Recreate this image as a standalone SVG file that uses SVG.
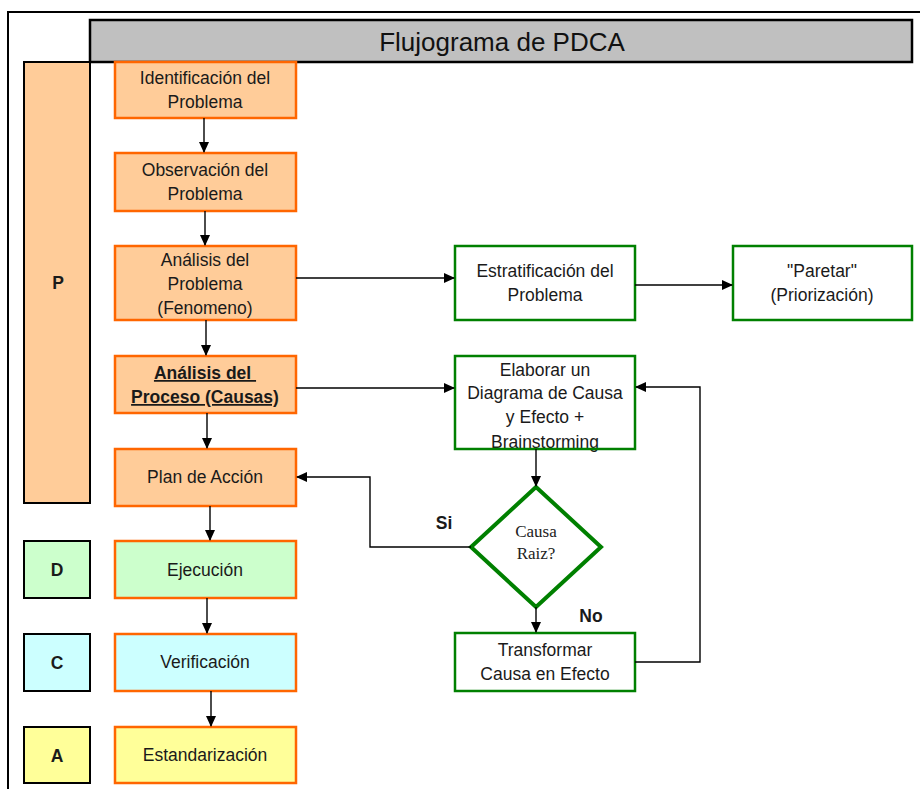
<svg xmlns="http://www.w3.org/2000/svg" width="920" height="789" viewBox="0 0 920 789">
<defs>
<marker id="ah" markerWidth="11" markerHeight="11" refX="10" refY="5.5" orient="auto" markerUnits="userSpaceOnUse">
<path d="M0,0.5 L11,5.5 L0,10.5 Z" fill="#000"/>
</marker>
<style>
.t{font-family:"Liberation Sans",Arial,sans-serif;font-size:17.5px;fill:#1a1a1a;text-anchor:middle}
.b{font-family:"Liberation Sans",Arial,sans-serif;font-size:17.5px;font-weight:bold;fill:#1a1a1a;text-anchor:middle}
.s{font-family:"Liberation Serif","Times New Roman",serif;font-size:17px;fill:#222;text-anchor:middle}
.o{stroke:#FF6600;stroke-width:2.5}
.g{stroke:#008000;stroke-width:2.5;fill:#fff}
.k{stroke:#000;stroke-width:2}
.c{stroke:#000;stroke-width:1.4;fill:none}
</style>
</defs>
<rect width="920" height="789" fill="#fff"/>
<g id="frame">
<path d="M920,12 H8 V789" fill="none" stroke="#000" stroke-width="2"/>
</g>
<g id="title">
<rect x="90" y="20" width="822" height="42" fill="#C0C0C0" stroke="#000" stroke-width="2.5"/>
<text x="502" y="51" style="font-family:'Liberation Sans',Arial,sans-serif;font-size:26px;fill:#111;text-anchor:middle">Flujograma de PDCA</text>
</g>
<g id="phaseP"><rect x="24" y="62" width="66" height="441" fill="#FFCC99" class="k"/><text class="b" x="58" y="289">P</text></g>
<g id="phaseD"><rect x="24" y="541" width="66" height="57" fill="#CCFFCC" class="k"/><text class="b" x="57" y="576">D</text></g>
<g id="phaseC"><rect x="24" y="634" width="66" height="57" fill="#CCFFFF" class="k"/><text class="b" x="57" y="669">C</text></g>
<g id="phaseA"><rect x="24" y="727" width="66" height="56" fill="#FFFF99" class="k"/><text class="b" x="57" y="762">A</text></g>

<g id="n1"><rect x="115" y="62" width="181" height="56" fill="#FFCC99" class="o"/><text class="t" x="205" y="84">Identificación del</text><text class="t" x="205" y="108">Problema</text></g>
<g id="n2"><rect x="115" y="153" width="181" height="58" fill="#FFCC99" class="o"/><text class="t" x="205" y="176">Observación del</text><text class="t" x="205" y="200">Problema</text></g>
<g id="n3"><rect x="115" y="246" width="181" height="74" fill="#FFCC99" class="o"/><text class="t" x="205" y="266">Análisis del</text><text class="t" x="205" y="290">Problema</text><text class="t" x="205" y="314">(Fenomeno)</text></g>
<g id="n4"><rect x="115" y="356" width="181" height="57" fill="#FFCC99" class="o"/><text class="b" x="205" y="379" text-decoration="underline" xml:space="preserve">Análisis del </text><text class="b" x="205" y="403" text-decoration="underline">Proceso (Causas)</text></g>
<g id="n5"><rect x="115" y="449" width="181" height="57" fill="#FFCC99" class="o"/><text class="t" x="205" y="483">Plan de Acción</text></g>
<g id="n6"><rect x="115" y="541" width="181" height="57" fill="#CCFFCC" class="o"/><text class="t" x="205" y="576">Ejecución</text></g>
<g id="n7"><rect x="115" y="634" width="181" height="57" fill="#CCFFFF" class="o"/><text class="t" x="205" y="668">Verificación</text></g>
<g id="n8"><rect x="115" y="727" width="181" height="56" fill="#FFFF99" class="o"/><text class="t" x="205" y="761">Estandarización</text></g>

<g id="n9"><rect x="455" y="246" width="180" height="74" class="g"/><text class="t" x="545" y="277">Estratificación del</text><text class="t" x="545" y="301">Problema</text></g>
<g id="n10"><rect x="733" y="246" width="179" height="74" class="g"/><text class="t" x="822" y="277">"Paretar"</text><text class="t" x="822" y="301">(Priorización)</text></g>
<g id="n11"><rect x="455" y="356" width="180" height="93" fill="#fff"/><text class="t" x="545" y="376">Elaborar un</text><text class="t" x="545" y="399">Diagrama de Causa</text><text class="t" x="545" y="423">y Efecto +</text><text class="t" x="545" y="448">Brainstorming</text><rect x="455" y="356" width="180" height="93" fill="none" stroke="#008000" stroke-width="2.5"/></g>
<g id="n12"><polygon points="536,487 601,547 536,607 471,547" fill="#fff" stroke="#008000" stroke-width="4"/><text class="s" x="536" y="537">Causa</text><text class="s" x="536" y="559">Raiz?</text></g>
<g id="n13"><rect x="455" y="633" width="180" height="58" class="g"/><text class="t" x="545" y="656">Transformar</text><text class="t" x="545" y="680">Causa en Efecto</text></g>

<g id="connectors">
<line class="c" x1="204" y1="118" x2="204" y2="152" marker-end="url(#ah)"/>
<line class="c" x1="205" y1="211" x2="205" y2="245" marker-end="url(#ah)"/>
<line class="c" x1="206" y1="320" x2="206" y2="355" marker-end="url(#ah)"/>
<line class="c" x1="207" y1="413" x2="207" y2="448" marker-end="url(#ah)"/>
<line class="c" x1="210" y1="506" x2="210" y2="540" marker-end="url(#ah)"/>
<line class="c" x1="207" y1="598" x2="207" y2="633" marker-end="url(#ah)"/>
<line class="c" x1="211" y1="691" x2="211" y2="726" marker-end="url(#ah)"/>
<line class="c" x1="296" y1="278" x2="454" y2="278" marker-end="url(#ah)"/>
<line class="c" x1="635" y1="285" x2="732" y2="285" marker-end="url(#ah)"/>
<line class="c" x1="296" y1="388" x2="454" y2="388" marker-end="url(#ah)"/>
<line class="c" x1="536" y1="449" x2="536" y2="486" marker-end="url(#ah)"/>
<line class="c" x1="536" y1="607" x2="536" y2="632" marker-end="url(#ah)"/>
<polyline class="c" points="471,547 370,547 370,477 297,477" marker-end="url(#ah)"/>
<polyline class="c" points="635,662 700,662 700,387 636,387" marker-end="url(#ah)"/>
<text class="b" x="444" y="529">Si</text>
<text class="b" x="591" y="622">No</text>
</g>
</svg>
